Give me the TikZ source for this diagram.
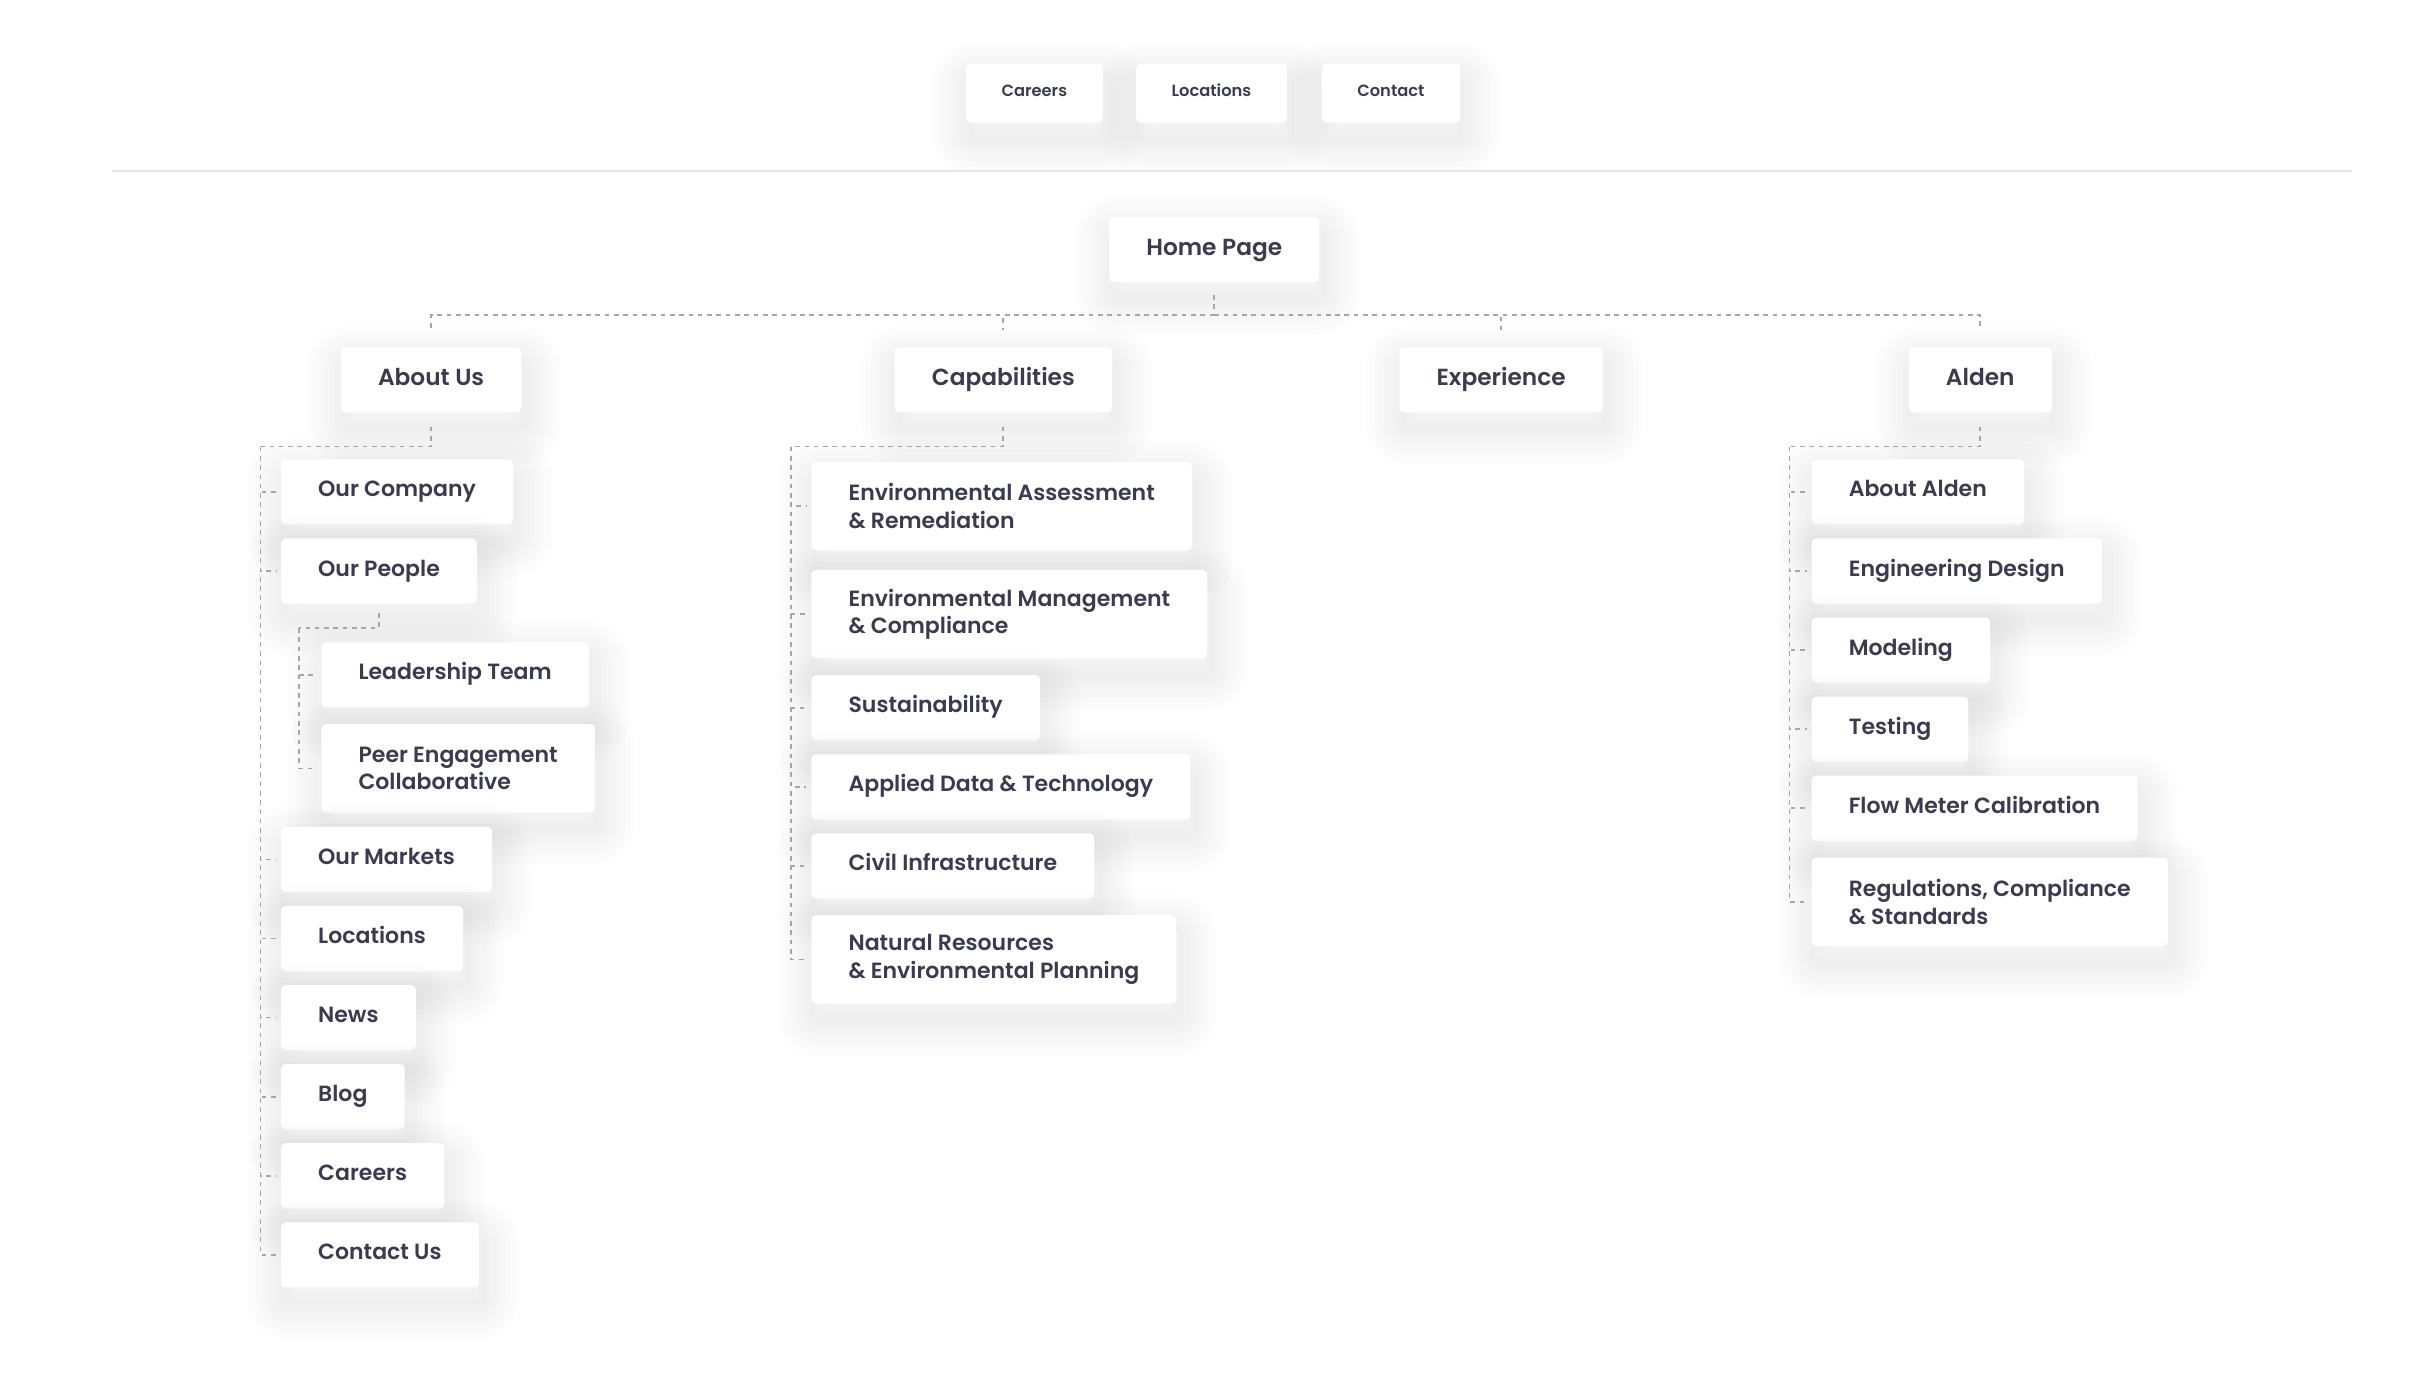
\documentclass[tikz,border=0pt]{standalone}
\usepackage{fontspec}
\setmainfont{Poppins}[UprightFont={* SemiBold}]
\usepackage{tikz}
\usetikzlibrary{positioning,calc,shadows}

\definecolor{ink}{RGB}{58,59,76}
\definecolor{dashgray}{RGB}{165,165,170}
\definecolor{rulegray}{RGB}{230,230,232}

\tikzset{
  softshadow/.style={general shadow={draw=black, line join=round,
    line width=#1, draw opacity=0.008, shadow xshift=2pt, shadow yshift=-10pt}},
  card/.style={fill=white, rounded corners=3pt, inner xsep=24pt, inner ysep=0pt,
    minimum height=42pt, text=ink, align=left,
    text height=10pt, text depth=3.5pt,
    font=\fontsize{14.2}{18}\selectfont,
    softshadow=48pt, softshadow=42pt, softshadow=36pt, softshadow=30pt,
    softshadow=24pt, softshadow=18pt, softshadow=12pt, softshadow=6pt},
  head/.style={card, font=\fontsize{15}{18}\selectfont, text height=11pt, text depth=4pt},
  nav/.style={card, inner xsep=23pt, minimum height=38pt,
    font=\fontsize{10.5}{12}\selectfont, text height=7.5pt, text depth=2.5pt},
  item/.style={card, anchor=north west},
  tall/.style={minimum height=57pt, outer ysep=2pt, text height={}, text depth={}},
  stack/.style={below=of #1, anchor=north west},
  link/.style={draw=dashgray, line width=1.1pt, dash pattern=on 3pt off 3pt},
}

\begin{document}
\begin{tikzpicture}[x=1pt, y=-1pt, node distance=8.6pt]
  \fill[white] (0,0) rectangle (1567,885.4);
  \useasboundingbox (0,0) rectangle (1567,885.4);

  % top navigation
  \node[nav] (navcareers) at (667,60) {Careers};
  \node[nav, right=21pt of navcareers] (navlocations) {Locations};
  \node[nav, right=22pt of navlocations] (navcontact) {Contact};
  \draw[rulegray, line width=1.2pt] (72,110) -- (1517,110);

  % main pages
  \node[head] (home) at (783,161) {Home Page};
  \node[head] (about) at (278,245) {About Us};
  \node[head] (capab) at (647,245) {Capabilities};
  \node[head] (exper) at (968,245) {Experience};
  \node[head] (alden) at (1277,245) {Alden};

  % about us
  \node[item] (company) at (181,296) {Our Company};
  \node[item, stack=company.south west] (people) {Our People};
  \node[item] (leader) at (207,414) {Leadership Team};
  \node[item, tall, stack=leader.south west] (peer) {Peer Engagement\\Collaborative};
  \node[item] (markets) at (181,533) {Our Markets};
  \node[item, stack=markets.south west] (locations) {Locations};
  \node[item, stack=locations.south west] (news) {News};
  \node[item, stack=news.south west] (blog) {Blog};
  \node[item, stack=blog.south west] (careers) {Careers};
  \node[item, stack=careers.south west] (contact) {Contact Us};

  % capabilities
  \node[item, tall] (assess) at (523,296) {Environmental Assessment\\\& Remediation};
  \node[item, tall, stack=assess.south west] (manage) {Environmental Management\\\& Compliance};
  \node[item, stack=manage.south west] (sustain) {Sustainability};
  \node[item, stack=sustain.south west] (data) {Applied Data \& Technology};
  \node[item, stack=data.south west] (civil) {Civil Infrastructure};
  \node[item, tall, stack=civil.south west] (natural) {Natural Resources\\\& Environmental Planning};

  % alden
  \node[item] (aboutalden) at (1168,296) {About Alden};
  \node[item, stack=aboutalden.south west] (engdesign) {Engineering Design};
  \node[item, stack=engdesign.south west] (modeling) {Modeling};
  \node[item, stack=modeling.south west] (testing) {Testing};
  \node[item, stack=testing.south west] (flowmeter) {Flow Meter Calibration};
  \node[item, tall, stack=flowmeter.south west] (regs) {Regulations, Compliance\\\& Standards};

  % connectors
  \coordinate (bus) at ($(home.south)+(0,21)$);
  \draw[link] ([yshift=-8pt]home.south) -- (bus);
  \foreach \h in {about,capab,exper,alden}
    \draw[link] (bus) -| ([yshift=11pt]\h.north);

  \coordinate (aboutj) at (168,288);
  \draw[link] ([yshift=-9pt]about.south) |- (aboutj);
  \foreach \c in {company,people,markets,locations,news,blog,careers,contact}
    \draw[link] (aboutj) |- ([xshift=-3pt]\c.west);

  \coordinate (peoplej) at (193,405);
  \draw[link] ([yshift=-6pt]people.south) |- (peoplej);
  \foreach \c in {leader,peer}
    \draw[link] (peoplej) |- ([xshift=-3pt]\c.west);

  \coordinate (capabj) at (510,288);
  \draw[link] ([yshift=-9pt]capab.south) |- (capabj);
  \foreach \c in {assess,manage,sustain,data,civil,natural}
    \draw[link] (capabj) |- ([xshift=-3pt]\c.west);

  \coordinate (aldenj) at (1154,288);
  \draw[link] ([yshift=-9pt]alden.south) |- (aldenj);
  \foreach \c in {aboutalden,engdesign,modeling,testing,flowmeter,regs}
    \draw[link] (aldenj) |- ([xshift=-3pt]\c.west);
\end{tikzpicture}
\end{document}
